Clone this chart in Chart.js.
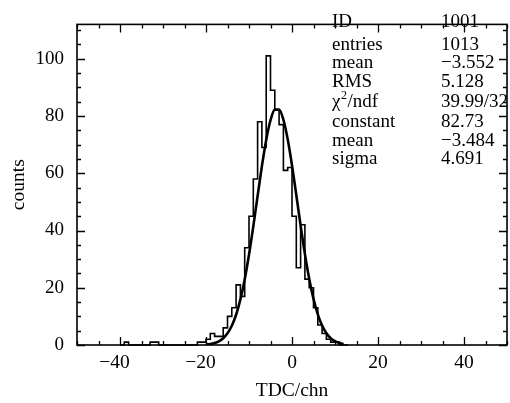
<!DOCTYPE html>
<html><head><meta charset="utf-8">
<script src="https://cdn.jsdelivr.net/npm/chart.js@4/dist/chart.umd.min.js"></script>
<style>html,body{margin:0;padding:0;background:#fff}#wrap{width:510px;height:403px;position:relative}</style>
</head><body><div id="wrap"><canvas id="c" width="510" height="403"></canvas></div>
<script>
// Histogram bins: lower edges (bin width 1) and counts
const binLowEdges = [-40,-39,-38,-37,-36,-35,-34,-33,-32,-31,-30,-29,-28,-27,-26,-25,-24,-23,-22,-21,
  -20,-19,-18,-17,-16,-15,-14,-13,-12,-11,-10,-9,-8,-7,-6,-5,-4,-3,-2,-1,
  0,1,2,3,4,5,6,7,8,9,10,11,12];
const binCounts = [0,0,1,0,0,0,0,0,1,1,0,0,0,0,0,0,0,0,0,1,
  1,2,4,3,3,6,10,13,21,17,34,45,58,78,69,101,89,82,77,61,
  62,45,27,42,23,20,13,7,4,2,1,1,0];
// Gaussian fit curve read at integer x
const fitX = [-20,-19,-18,-17,-16,-15,-14,-13,-12,-11,-10,-9,-8,-7,-6,-5,-4,-3,-2,-1,0,1,2,3,4,5,6,7,8,9,10,11,12];
const fitY = [0.17,0.35,0.69,1.30,2.36,4.07,6.71,10.57,15.92,22.92,31.53,41.44,52.05,62.47,71.65,78.52,82.23,82.29,78.69,71.91,62.79,52.39,41.77,31.83,23.17,16.12,10.72,6.81,4.13,2.40,1.33,0.70,0.36];
const xTickValues = [-40,-20,0,20,40];
const yTickValues = [0,20,40,60,80,100];
const statLabels = ['ID','entries','mean','RMS','χ2/ndf','constant','mean','sigma'];
const statValues = ['1001','1013','−3.552','5.128','39.99/32','82.73','−3.484','4.691'];

const histPoints = binLowEdges.map((e,i)=>({x:e,y:binCounts[i]}));
histPoints.push({x:binLowEdges[binLowEdges.length-1]+1,y:0});
const fitPoints = fitX.map((x,i)=>({x:x,y:fitY[i]}));

const SERIF = '"Liberation Serif","Times New Roman",serif';
const fmt = v => (v<0? '\u2212'+Math.abs(v) : String(v));

const frame = {
  id:'frame',
  afterDatasetsDraw(chart){
    const {ctx, chartArea:a, scales:{x,y}} = chart;
    ctx.save();
    ctx.strokeStyle='#000';
    ctx.lineWidth=1.6;
    ctx.strokeRect(a.left,a.top,a.right-a.left,a.bottom-a.top);
    ctx.lineWidth=1.3;
    ctx.beginPath();
    for(let v=x.min; v<=x.max; v+=5){
      const px=Math.round(x.getPixelForValue(v))+0.5;
      const L = (v%20===0)?8:4;
      ctx.moveTo(px,a.bottom); ctx.lineTo(px,a.bottom-L);
      ctx.moveTo(px,a.top); ctx.lineTo(px,a.top+L);
    }
    for(let v=0; v<=y.max; v+=5){
      const py=Math.round(y.getPixelForValue(v))+0.5;
      const L = (v%20===0)?8:4;
      ctx.moveTo(a.left,py); ctx.lineTo(a.left+L,py);
      ctx.moveTo(a.right,py); ctx.lineTo(a.right-L,py);
    }
    ctx.stroke();
    ctx.fillStyle='#000';
    // x tick labels: digits centred on the tick, minus sign hanging to the left
    ctx.font='19.5px '+SERIF;
    ctx.textBaseline='top';
    ctx.textAlign='right';
    xTickValues.forEach(v=>{
      const px=x.getPixelForValue(v);
      const dw=ctx.measureText(String(Math.abs(v))).width;
      ctx.fillText(fmt(v), px+dw/2, a.bottom+8);
    });
    // statistics box
    ctx.textBaseline='alphabetic';
    ctx.textAlign='left';
    const baselines=[27,50,68,87,107,127,146,164];
    const lx=332, vx=441;
    const F='19px '+SERIF;
    statLabels.forEach((t,i)=>{
      ctx.font=F;
      if(t==='χ2/ndf'){
        ctx.fillText('χ',lx,baselines[i]);
        let w=ctx.measureText('χ').width;
        ctx.font='12px '+SERIF;
        ctx.fillText('2',lx+w+0.5,baselines[i]-8);
        let w2=ctx.measureText('2').width;
        ctx.font=F;
        ctx.fillText('/ndf',lx+w+w2+1,baselines[i]);
      } else {
        ctx.fillText(t,lx,baselines[i]);
      }
      ctx.fillText(statValues[i],vx,baselines[i]);
    });
    ctx.restore();
  }
};

new Chart(document.getElementById('c'),{
  type:'scatter',
  data:{datasets:[
    {data:histPoints, showLine:true, stepped:'after', borderColor:'#000', borderWidth:1.6, pointRadius:0, fill:false, clip:3},
    {data:fitPoints, showLine:true, borderColor:'#000', borderWidth:2.6, pointRadius:0, tension:0.4, cubicInterpolationMode:'monotone', fill:false}
  ]},
  options:{
    responsive:false, animation:false, devicePixelRatio:1,
    layout:{padding:{left:0,right:3,top:8,bottom:0}},
    plugins:{legend:{display:false}, tooltip:{enabled:false}},
    scales:{
      x:{type:'linear', min:-50, max:50,
        border:{display:false}, grid:{display:false, drawTicks:false},
        afterBuildTicks:s=>{s.ticks=xTickValues.map(v=>({value:v}));},
        afterFit:s=>{s.height=58;},
        ticks:{display:false},
        title:{display:true, text:'TDC/chn', color:'#000', font:{family:SERIF,size:19.5}, padding:{top:3,bottom:0}}
      },
      y:{type:'linear', min:0, max:112,
        border:{display:false}, grid:{display:false, drawTicks:false},
        afterBuildTicks:s=>{s.ticks=yTickValues.map(v=>({value:v}));},
        afterFit:s=>{s.width=77;},
        ticks:{padding:13, color:'#000', font:{family:SERIF,size:19}, callback:v=>fmt(v)},
        title:{display:true, text:'counts', color:'#000', font:{family:SERIF,size:19.5}, padding:{top:7,bottom:0}}
      }
    }
  },
  plugins:[frame]
});
</script></body></html>
